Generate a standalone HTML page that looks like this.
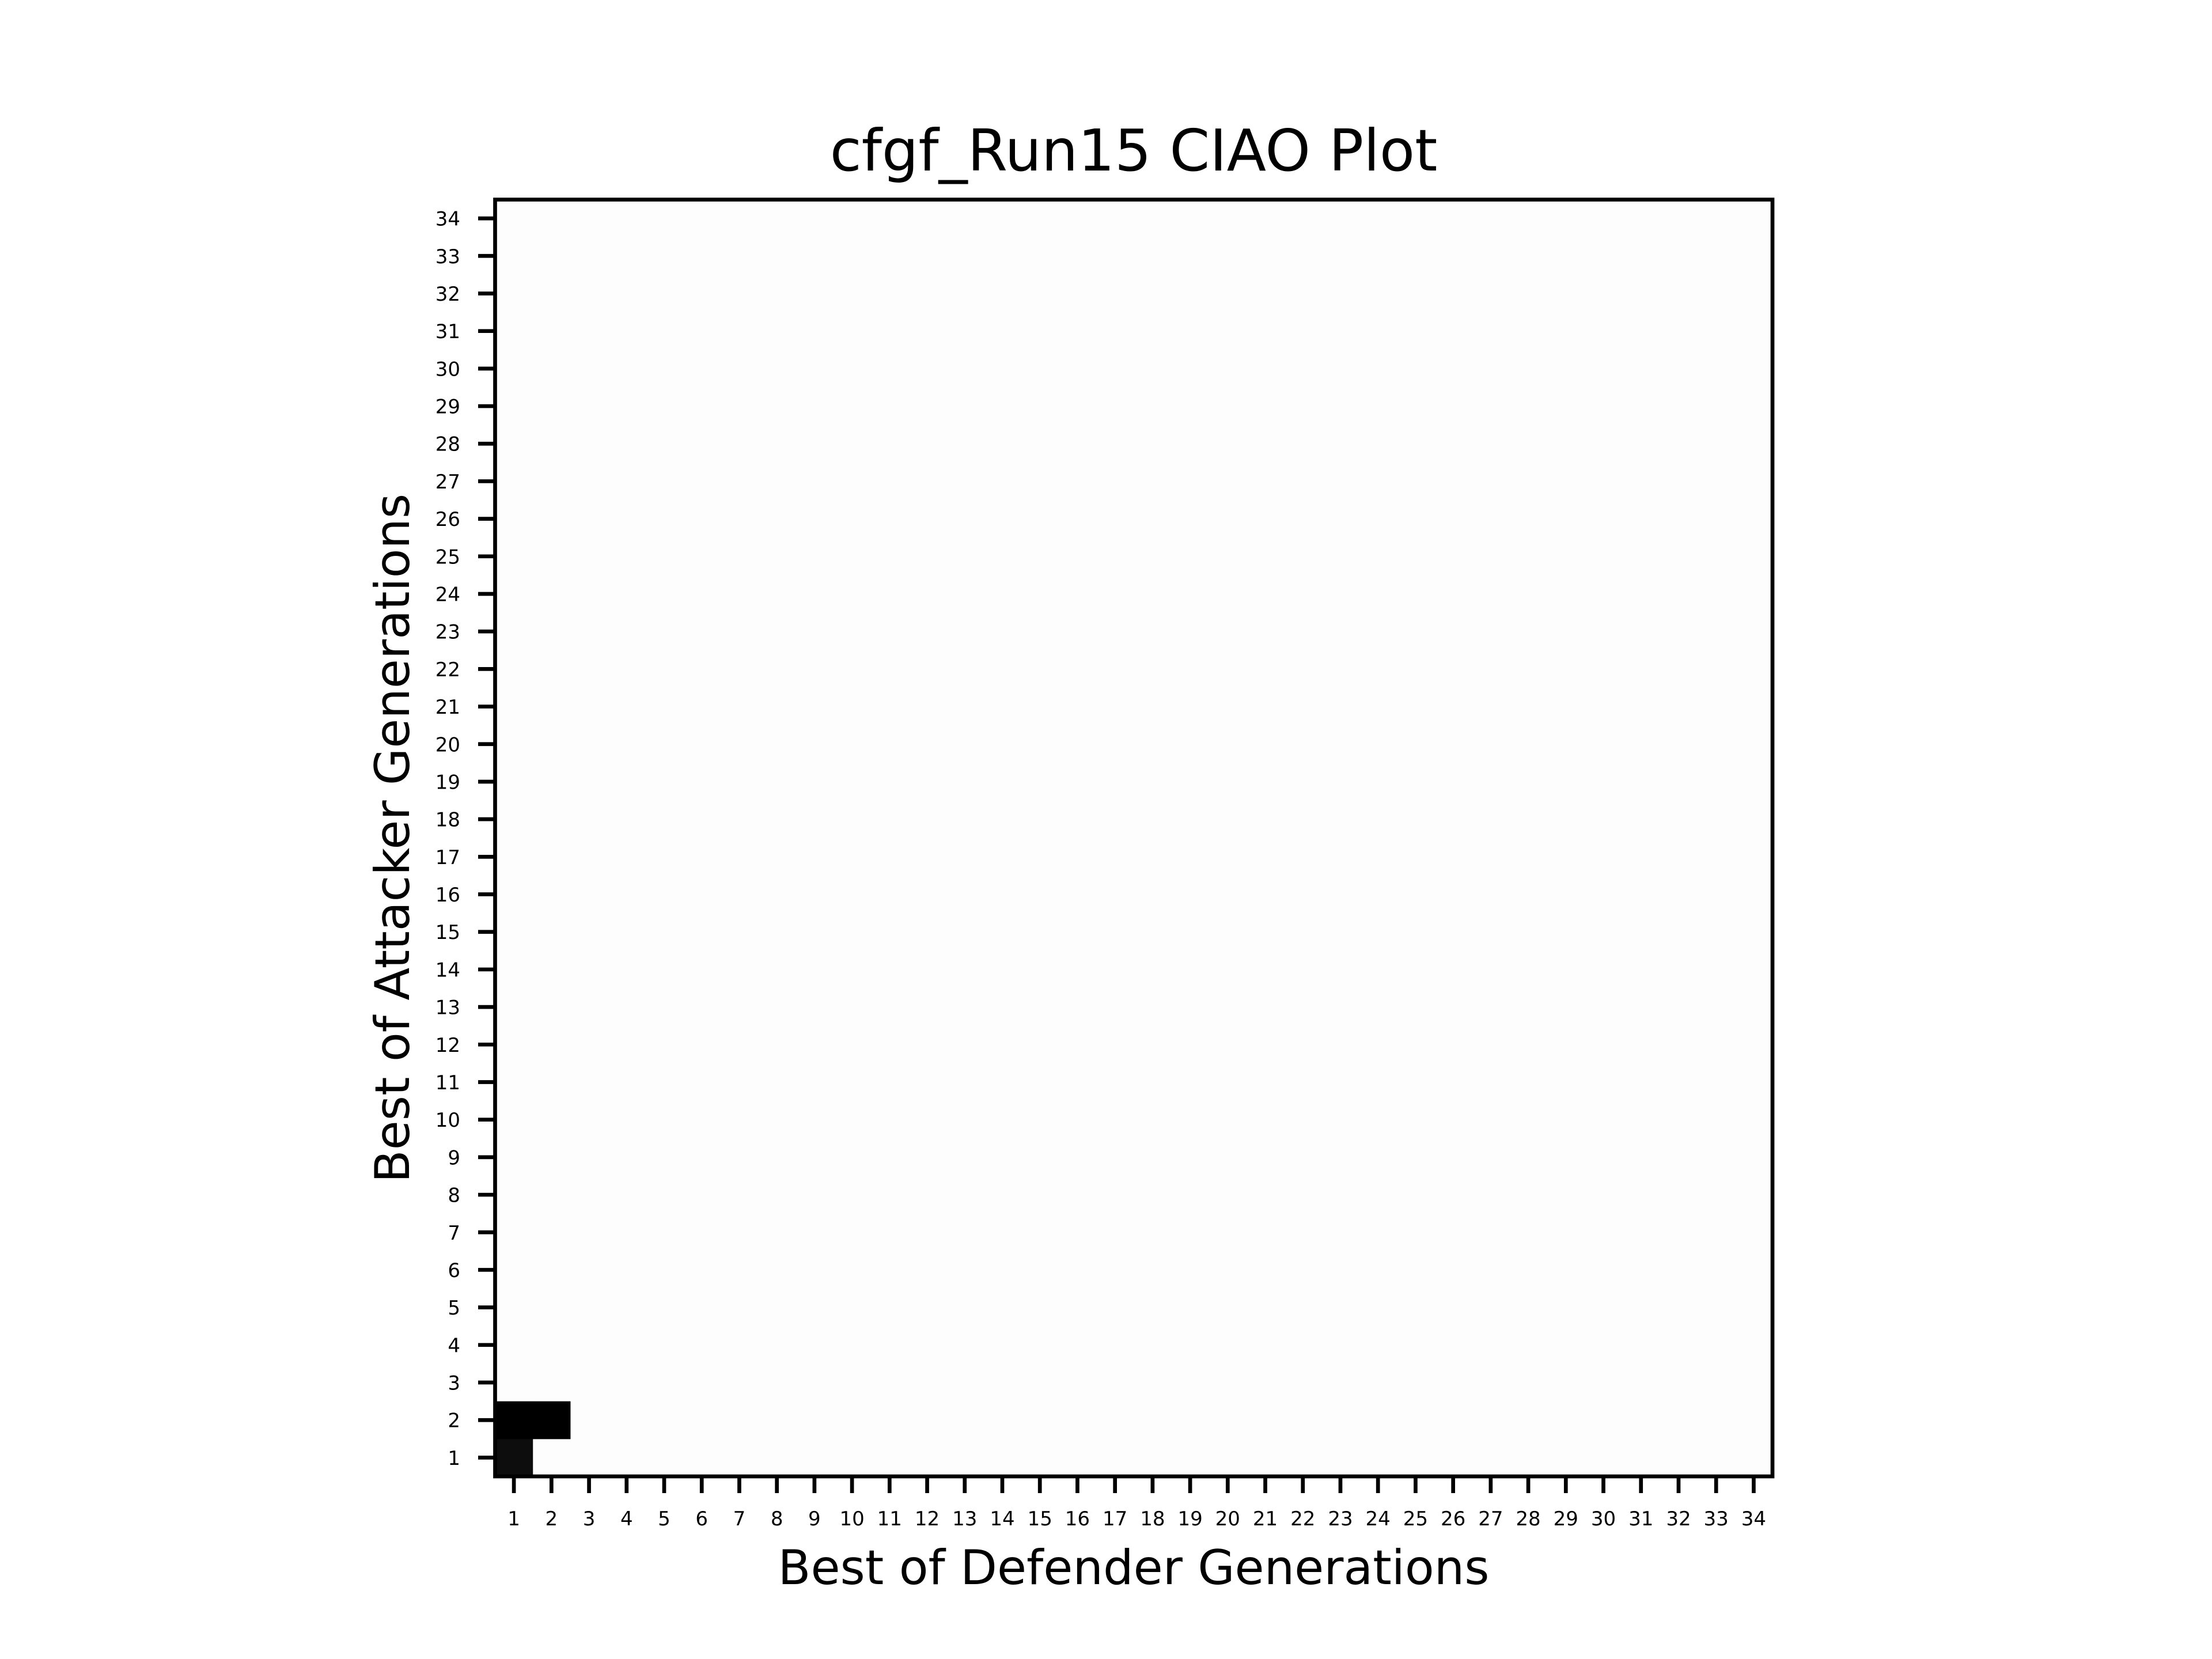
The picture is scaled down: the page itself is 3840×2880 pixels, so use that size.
<!DOCTYPE html>
<html><head><meta charset="utf-8"><style>
html,body{margin:0;padding:0;background:#fff;}
svg{display:block;font-family:"DejaVu Sans","Liberation Sans",sans-serif;}
</style></head><body>
<svg id="chart" width="3840" height="2880" viewBox="0 0 3840 2880" xmlns="http://www.w3.org/2000/svg">
<rect x="0" y="0" width="3840" height="2880" fill="#fff"/>
<text x="1968" y="296" font-size="100" text-anchor="middle">cfgf_Run15 CIAO Plot</text>
<g id="cells"></g>
<g id="ticks"></g>
<rect x="859.5" y="346.5" width="2217.5" height="2216.5" fill="none" stroke="#000" stroke-width="6.7"/>
<text x="1968" y="2750" font-size="83" text-anchor="middle">Best of Defender Generations</text>
<text x="0" y="0" font-size="83" text-anchor="middle" transform="translate(710,1455) rotate(-90)">Best of Attacker Generations</text>
</svg>
<script>
const N = 34;
const tickLabels = Array.from({length: N}, (_, i) => String(i + 1));
// non-background cells: [defenderGen, attackerGen, value 0..1 (1 = black)]
const cellDefender = [1, 1, 2];
const cellAttacker = [1, 2, 2];
const cellValue = [0.95, 1.0, 1.0];
const backgroundValue = 0.006;

const X0 = 859.5, X1 = 3077, Y0 = 346.5, Y1 = 2563;
const cw = (X1 - X0) / N, ch = (Y1 - Y0) / N;
function xPos(g) { return X0 + (g - 1) * cw; }
function yPos(g) { return Y1 - g * ch; }
function shade(v) { const c = Math.round(255 * (1 - v)); return `rgb(${c},${c},${c})`; }
const NS = "http://www.w3.org/2000/svg";
const cells = document.getElementById('cells');
const bg = document.createElementNS(NS, 'rect');


bg.setAttribute('x', X0); bg.setAttribute('y', Y0);
bg.setAttribute('width', X1 - X0); bg.setAttribute('height', Y1 - Y0);
bg.setAttribute('fill', shade(backgroundValue));
cells.appendChild(bg);
for (let i = 0; i < cellValue.length; i++) {
  const r = document.createElementNS(NS, 'rect');
  
  
  r.setAttribute('x', xPos(cellDefender[i]));
  r.setAttribute('y', yPos(cellAttacker[i]));
  r.setAttribute('width', cw + 0.5);
  r.setAttribute('height', ch + 0.5);
  r.setAttribute('fill', shade(cellValue[i]));
  cells.appendChild(r);
}
const ticks = document.getElementById('ticks');
for (let i = 0; i < N; i++) {
  const cx = xPos(i + 1) + cw / 2, cy = yPos(i + 1) + ch / 2;
  const tx = document.createElementNS(NS, 'line');
  
  
  tx.setAttribute('x1', cx); tx.setAttribute('x2', cx);
  tx.setAttribute('y1', 2563); tx.setAttribute('y2', 2592);
  tx.setAttribute('stroke', '#000'); tx.setAttribute('stroke-width', '6.7');
  ticks.appendChild(tx);
  const lx = document.createElementNS(NS, 'text');
  
  
  lx.setAttribute('x', cx); lx.setAttribute('y', 2648);
  lx.setAttribute('font-size', '34'); lx.setAttribute('text-anchor', 'middle');
  lx.textContent = tickLabels[i];
  ticks.appendChild(lx);
  const ty = document.createElementNS(NS, 'line');
  
  
  ty.setAttribute('x1', 830); ty.setAttribute('x2', 859.5);
  ty.setAttribute('y1', cy); ty.setAttribute('y2', cy);
  ty.setAttribute('stroke', '#000'); ty.setAttribute('stroke-width', '6.7');
  ticks.appendChild(ty);
  const ly = document.createElementNS(NS, 'text');
  
  
  ly.setAttribute('x', 799); ly.setAttribute('y', cy + 12.5);
  ly.setAttribute('font-size', '34'); ly.setAttribute('text-anchor', 'end');
  ly.textContent = tickLabels[i];
  ticks.appendChild(ly);
}
</script>
</body></html>
